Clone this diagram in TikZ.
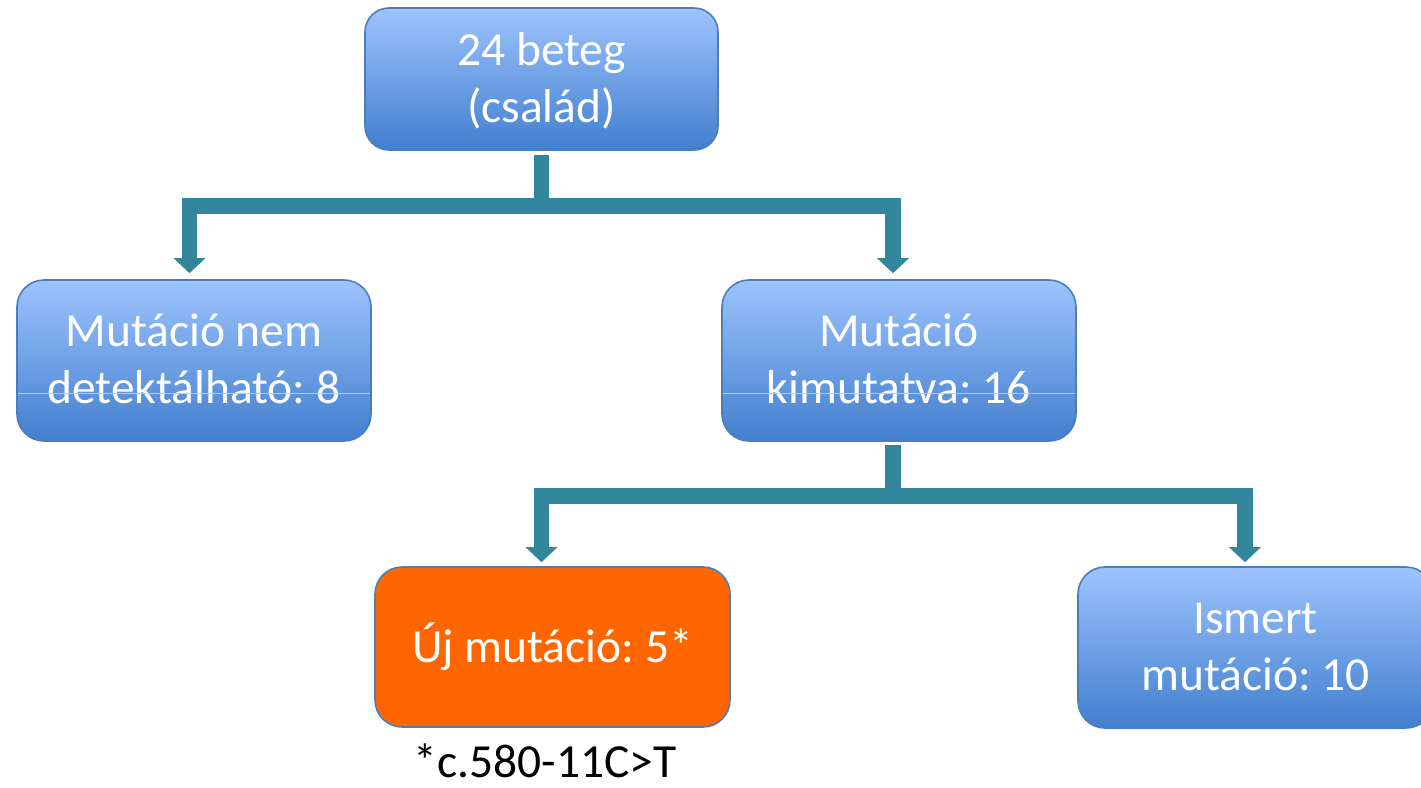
\documentclass[tikz,border=0pt]{standalone}
\usepackage{fontspec}
\setmainfont{Carlito}
\usetikzlibrary{arrows.meta}
\definecolor{linkteal}{RGB}{49,133,156}
\definecolor{boxtop}{RGB}{157,195,253}
\definecolor{boxbot}{RGB}{66,127,206}
\definecolor{boxedge}{RGB}{74,126,187}
\definecolor{newfill}{RGB}{255,102,0}
\definecolor{seamcol}{RGB}{178,204,245}
\frenchspacing
\begin{document}
\begin{tikzpicture}[x=1pt,y=-1pt,
  bigtext/.style={font=\fontsize{47.5}{57}\selectfont\frenchspacing},
  box/.style={draw=boxedge, line width=1.6pt, top color=boxtop, bottom color=boxbot,
    minimum width=354pt, minimum height=161pt, rounded corners=27pt, inner sep=0pt,
    text=white, bigtext, align=center, text depth=0pt, text height=86pt},
  oneline/.style={text height=31pt},
  newbox/.style={box, fill=newfill, top color=newfill, bottom color=newfill},
  conn/.style={draw=linkteal, line width=15.5pt, line join=miter},
  tip/.tip={Triangle[width=31pt, length=15pt]},
  seam/.style={draw=seamcol, line width=1pt},
  note/.style={bigtext, text=black, inner sep=0pt, text depth=0pt}]
\useasboundingbox (0,0) rectangle (1421,787);
\clip (0,0) rectangle (1421,787);

% boxes
\node[box, minimum width=353pt, minimum height=142pt, rounded corners=24pt] (top) at (541.5,79) {24 beteg\\(család)};
\node[box] (lost) at (194,360.5) {Mutáció nem\\detektálható: 8};
\node[box] (found) at (899,360.5) {Mutáció\\kimutatva: 16};
\node[newbox, oneline, minimum width=355pt, minimum height=160pt] (new) at (552.5,647) {Új mutáció: 5*};
\node[box, minimum width=355pt] (known) at (1255.5,647.5) {Ismert\\mutáció: 10};

% thin seams across the two middle boxes
\draw[seam] ([xshift=2pt,yshift=-33pt]lost.west) -- ([xshift=-2pt,yshift=-33pt]lost.east);
\draw[seam] ([xshift=2pt,yshift=-33pt]found.west) -- ([xshift=-2pt,yshift=-33pt]found.east);

% footnote
\node[note, anchor=base] (fn) at ([xshift=-7.5pt,yshift=-50pt]new.south) {*c.580-11C>T};

% first split
\coordinate (b1) at (541,206);
\draw[conn] ([yshift=-4pt]top.south) -- (top.south |- b1);
\draw[conn, tip-tip] ([xshift=-4.5pt,yshift=6pt]lost.north) |- (b1) -| ([xshift=-6pt,yshift=6pt]found.north);

% second split
\coordinate (b2) at (893,496);
\draw[conn] ([xshift=-6pt,yshift=-3pt]found.south) -- ([xshift=-6pt]found.south |- b2);
\draw[conn, tip-tip] ([xshift=-11pt,yshift=4pt]new.north) |- (b2) -| ([xshift=-10.5pt,yshift=4pt]known.north);
\end{tikzpicture}
\end{document}
